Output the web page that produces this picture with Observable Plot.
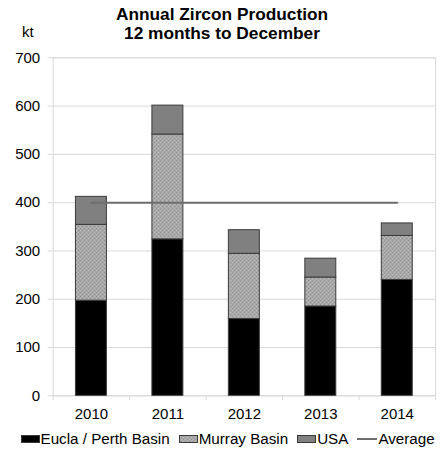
<!DOCTYPE html>
<html>
<head>
<meta charset="utf-8">
<script src="https://cdn.jsdelivr.net/npm/d3@7"></script>
<script src="https://cdn.jsdelivr.net/npm/@observablehq/plot@0.6"></script>
<style>
  html, body { margin: 0; padding: 0; background: #fff; }
  body { width: 444px; height: 455px; position: relative; overflow: hidden;
         font-family: "Liberation Sans", Arial, sans-serif; color: #000; }
  #title { position: absolute; left: 0; top: 5.3px; width: 444px; text-align: center;
           font-weight: bold; font-size: 17.3px; line-height: 18.7px; }
  #unit { position: absolute; left: 22px; top: 23px; font-size: 15px; line-height: 18px; }
  #chart { position: absolute; left: 0; top: 44px; }
  #legend { position: absolute; left: 20.5px; top: 429px; height: 19px; display: flex;
            align-items: center; font-size: 15.2px; line-height: 19px; white-space: nowrap; }
  #legend .item { display: flex; align-items: center; margin-right: 9px; }
  #legend svg { display: block; margin-right: 1px; }
</style>
</head>
<body>
<svg width="0" height="0" style="position:absolute">
  <defs>
    <pattern id="murray-stipple" width="4" height="4" patternUnits="userSpaceOnUse">
      <rect width="4" height="4" fill="#a8a8a8"></rect>
      <rect x="0" y="0" width="1" height="1" fill="#909090"></rect>
      <rect x="2" y="2" width="1" height="1" fill="#909090"></rect>
      <rect x="2" y="0" width="1" height="1" fill="#bebebe"></rect>
      <rect x="0" y="2" width="1" height="1" fill="#bebebe"></rect>
    </pattern>
  </defs>
</svg>
<div id="title">Annual Zircon Production<br>12 months to December</div>
<div id="unit">kt</div>
<div id="chart"></div>
<div id="legend"></div>
<script>
// Zircon production by source, kt, calendar years
const years = [2010, 2011, 2012, 2013, 2014];
const euclaPerth = [197, 324, 159, 185, 240];
const murrayBasin = [157, 217, 135, 60, 91];
const usa = [58, 60, 49, 39, 26];
const average = [400, 400, 400, 400, 400];
const seriesNames = ["Eucla / Perth Basin", "Murray Basin", "USA"];
const yTicks = [0, 100, 200, 300, 400, 500, 600, 700];

const seriesValues = [euclaPerth, murrayBasin, usa];
const rows = years.flatMap((year, i) =>
  seriesNames.map((series, s) => ({year, series, value: seriesValues[s][i]}))
);

const fills = ["#000000", "url(#murray-stipple)", "#808080"];
const gridColor = "#d9d9d9";
const barHalfWidth = 0.2025; // fraction of one year slot on either side of centre
const yearEdges = years.map(y => y - 0.5).concat([years[years.length - 1] + 0.5]);

const chart = Plot.plot({
  width: 444,
  height: 380,
  marginLeft: 52.7,
  marginRight: 9,
  marginTop: 13.3,
  marginBottom: 28.7,
  style: {fontFamily: "'Liberation Sans', Arial, sans-serif", fontSize: "15px", color: "#000", background: "transparent", overflow: "visible"},
  x: {domain: [yearEdges[0], yearEdges[yearEdges.length - 1]]},
  y: {domain: [0, 700]},
  color: {domain: seriesNames, range: fills},
  marks: [
    Plot.gridY(yTicks, {stroke: gridColor, strokeOpacity: 1}),
    Plot.frame({stroke: gridColor}),
    Plot.axisY(yTicks, {tickSize: 5, tickPadding: 8, stroke: gridColor, fill: "#000", label: null, tickFormat: d => String(d)}),
    Plot.axisX(yearEdges, {tickSize: 5, stroke: gridColor, tickFormat: () => "", label: null}),
    Plot.axisX(years, {tickSize: 0, tickPadding: 13, fill: "#000", tickFormat: d => String(d), label: null}),
    Plot.rectY(rows, Plot.stackY({
      x1: d => d.year - barHalfWidth,
      x2: d => d.year + barHalfWidth,
      y: "value",
      fill: "series",
      stroke: "#3a3a3a",
      strokeWidth: 1
    })),
    Plot.lineY(average, {x: years, y: average, stroke: "#6e6e6e", strokeWidth: 2})
  ]
});
document.getElementById("chart").append(chart);

// Legend below the chart
const legend = document.getElementById("legend");
seriesNames.forEach((name, i) => {
  const item = document.createElement("div");
  item.className = "item";
  item.innerHTML = `<svg width="19" height="8"><rect x="0.5" y="0.5" width="18" height="7" fill="${fills[i]}" stroke="#3a3a3a" stroke-width="1"></rect></svg><span>${name}</span>`;
  legend.append(item);
});
const avgItem = document.createElement("div");
avgItem.className = "item";
avgItem.innerHTML = `<svg width="20" height="8"><line x1="0" x2="20" y1="4" y2="4" stroke="#6e6e6e" stroke-width="2"></line></svg><span>Average</span>`;
legend.append(avgItem);
</script>
</body>
</html>
